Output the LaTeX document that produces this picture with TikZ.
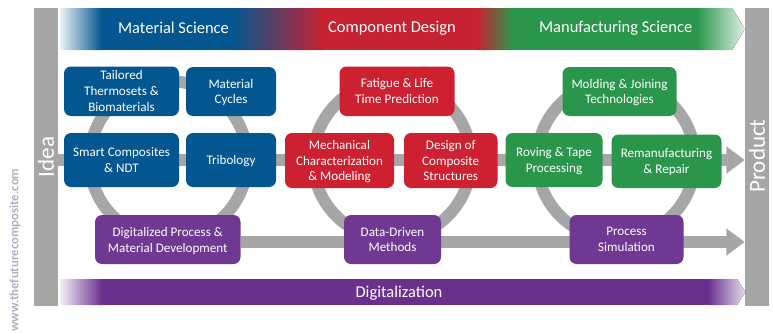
\documentclass[tikz,border=0pt]{standalone}
\usepackage{fontspec}
\setmainfont{Carlito}
\usetikzlibrary{arrows.meta,backgrounds}
\definecolor{cblue}{HTML}{03568F}
\definecolor{cred}{HTML}{CD2030}
\definecolor{cgreen}{HTML}{2A964C}
\definecolor{cpurple}{HTML}{6F3892}
\definecolor{bblue}{HTML}{03568F}
\definecolor{bred}{HTML}{C72231}
\definecolor{bpurple}{HTML}{69318D}
\definecolor{cgray}{HTML}{A6A6A6}
\definecolor{wmark}{HTML}{A9B2BF}
\tikzset{
  x=1pt,y=-1pt,
  box/.style={rounded corners=7pt,inner sep=0pt,align=center,text=white,font=\fontsize{13.1}{15.9}\selectfont,anchor=center,text depth=0pt},
  bluebox/.style={box,fill=cblue},
  redbox/.style={box,fill=cred},
  greenbox/.style={box,fill=cgreen},
  purplebox/.style={box,fill=cpurple},
  sidebar/.style={fill=cgray,inner sep=0pt},
  sidelabel/.style={text=white,font=\fontsize{23}{27}\selectfont,rotate=90,inner sep=0pt},
  ring/.style={draw=cgray,line width=12pt},
  flow/.style={draw=cgray,line width=12pt,-{Triangle[length=18.5pt,width=26pt]}},
  bannertext/.style={text=white,font=\fontsize{16.5}{19}\selectfont,inner sep=0pt}
}
\newcommand{\mybox}[7]{\node[#1,minimum width=#4pt-#2pt,minimum height=#5pt-#3pt] (#6) at ({(#2+#4)/2},{(#3+#5)/2}) {#7};}
\begin{document}
\begin{tikzpicture}
\useasboundingbox (0,0) rectangle (773,332);
% watermark
\node[text=wmark,font=\fontsize{12.8}{14}\selectfont\bfseries,rotate=90,anchor=west,inner sep=0pt] (watermark) at (15,332) {www.thefuturecomposite.com};
% side bars
\node[sidebar,minimum width=24pt,minimum height=298pt] (idea) at (46,157) {};
\node[sidebar,minimum width=24pt,minimum height=298pt] (product) at (757,157) {};
\node[sidelabel] (idealabel) at (46,157) {Idea};
\node[sidelabel] (productlabel) at (757,156) {Product};
% top banner
\begin{scope}
\clip (60,8) -- (732,8) -- (745,29) -- (732,50) -- (60,50) -- cycle;
\fill[left color=bblue!8,right color=bblue] (60,8) rectangle (102,50);
\fill[bblue] (102,8) rectangle (233,50);
\fill[left color=bblue,right color=bred] (233,8) rectangle (323,50);
\fill[bred] (323,8) rectangle (477,50);
\fill[left color=bred,right color=cgreen] (477,8) rectangle (513,50);
\fill[cgreen] (513,8) rectangle (697,50);
\fill[left color=cgreen,right color=cgreen!15] (697,8) rectangle (745,50);
\end{scope}
\node[bannertext] (ms) at (173.5,28) {Material Science};
\node[bannertext] (cd) at (392,28) {Component Design};
\node[bannertext] (mfs) at (615.7,28) {Manufacturing Science};
% bottom banner
\begin{scope}
\clip (60,279) -- (737,279) -- (745.5,292) -- (737,305) -- (60,305) -- cycle;
\fill[left color=bpurple!8,right color=bpurple] (60,279) rectangle (102,305);
\fill[bpurple] (102,279) rectangle (708,305);
\fill[left color=bpurple,right color=bpurple!15] (708,279) rectangle (746,305);
\end{scope}
\node[bannertext] (dl) at (399,293) {Digitalization};
% rings
\draw[ring] (168.5,160) circle[radius=79pt];
\draw[ring] (392,160) circle[radius=79pt];
\draw[ring] (616,160) circle[radius=79pt];
% nodes
\mybox{bluebox}{64}{66.5}{179}{116}{tailored}{Tailored\\Thermosets \&\\Biomaterials}
\mybox{bluebox}{186}{67}{276}{116}{cycles}{Material\\Cycles}
\mybox{bluebox}{64}{133}{179}{187}{smart}{Smart Composites\\\& NDT}
\mybox{bluebox}{186}{133}{276}{187}{tribology}{Tribology}
\mybox{purplebox}{95}{215}{240.5}{264}{digital}{Digitalized Process \&\\Material Development}
\mybox{redbox}{339.5}{66.5}{454.5}{116}{fatigue}{Fatigue \& Life\\Time Prediction}
\mybox{redbox}{285}{133}{394}{188}{mech}{Mechanical\\Characterization\\\& Modeling}
\mybox{redbox}{404}{133}{497.5}{188}{design}{Design of\\Composite\\Structures}
\mybox{purplebox}{344}{215}{441}{264}{data}{Data-Driven\\Methods}
\mybox{greenbox}{562.5}{67}{676.5}{116}{molding}{Molding \& Joining\\Technologies}
\mybox{greenbox}{505.5}{133}{602.5}{187}{roving}{Roving \& Tape\\Processing}
\mybox{greenbox}{611.5}{134.5}{721.5}{188}{reman}{Remanufacturing\\\& Repair}
\mybox{purplebox}{569.5}{215}{683.5}{264}{sim}{Process\\Simulation}
% connectors (behind the boxes)
\coordinate (digout) at (240.5,242);
\begin{scope}[on background layer]
\draw[flow] (idea.east |- smart) -- (smart -| product.west);
\draw[flow] (digout) -- (digout -| product.west);
\end{scope}
\end{tikzpicture}
\end{document}
